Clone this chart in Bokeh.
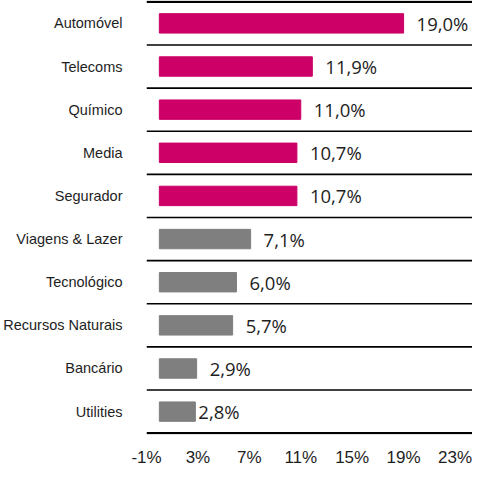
from bokeh.plotting import figure
from bokeh.models import Range1d, FixedTicker, ColumnDataSource, Span
from bokeh.core.properties import value
from bokeh.embed import file_html
from bokeh.resources import INLINE

categories = ["Automóvel", "Telecoms", "Químico", "Media", "Segurador",
              "Viagens & Lazer", "Tecnológico", "Recursos Naturais", "Bancário", "Utilities"]
values = [19.0, 11.9, 11.0, 10.7, 10.7, 7.1, 6.0, 5.7, 2.9, 2.8]
highlight = [True, True, True, True, True, False, False, False, False, False]
x_ticks = [-1, 3, 7, 11, 15, 19, 23]

MAGENTA = "#CC0066"
GRAY = "#7F7F7F"
TEXT = "#1E1E1E"

n = len(categories)
ypos = [i + 0.5 for i in range(n)]
colors = [MAGENTA if h else GRAY for h in highlight]
labels = [f"{v:.1f}".replace(".", ",") + "%" for v in values]
offsets = [13] * n
offsets[-1] = 3

src = ColumnDataSource(dict(y=ypos, v=values, c=colors, lab=labels, off=offsets))

p = figure(width=472, height=469, output_backend="svg", toolbar_location=None,
           x_range=Range1d(-1, 24.36), y_range=Range1d(n + 0.03, -0.03),
           min_border=0, min_border_left=138, min_border_right=0, min_border_top=0,
           min_border_bottom=20)
p.outline_line_color = None
p.grid.visible = False
p.background_fill_color = "white"
p.border_fill_color = "white"

p.hbar(y="y", left=0, right="v", height=0.45, color="c", source=src)
p.text(x="v", y="y", text="lab", x_offset="off", source=src,
       text_font=value("Open Sans"), text_font_size="18.5px", text_color=TEXT,
       text_baseline="middle", text_align="left")

for i in range(n + 1):
    w = 2.2 if i in (0, n) else 1.6
    p.add_layout(Span(location=i, dimension="width", line_color="black", line_width=w))

ya = p.yaxis[0]
ya.ticker = FixedTicker(ticks=ypos)
ya.major_label_overrides = {y: c for y, c in zip(ypos, categories)}
ya.axis_line_color = None
ya.major_tick_line_color = None
ya.minor_tick_line_color = None
ya.major_tick_out = 0
ya.major_tick_in = 0
ya.major_label_standoff = 24
ya.major_label_text_font = "Liberation Sans"
ya.major_label_text_font_size = "14.5px"
ya.major_label_text_color = TEXT

xa = p.xaxis[0]
xa.ticker = FixedTicker(ticks=x_ticks)
xa.major_label_overrides = {t: f"{t}%" for t in x_ticks}
xa.axis_label = None
xa.axis_line_color = None
xa.major_tick_line_color = None
xa.minor_tick_line_color = None
xa.major_tick_out = 0
xa.major_tick_in = 0
xa.major_label_standoff = 13
xa.major_label_text_font = "Liberation Sans"
xa.major_label_text_font_size = "17px"
xa.major_label_text_color = TEXT

open("out.html", "w").write(file_html(p, INLINE))
